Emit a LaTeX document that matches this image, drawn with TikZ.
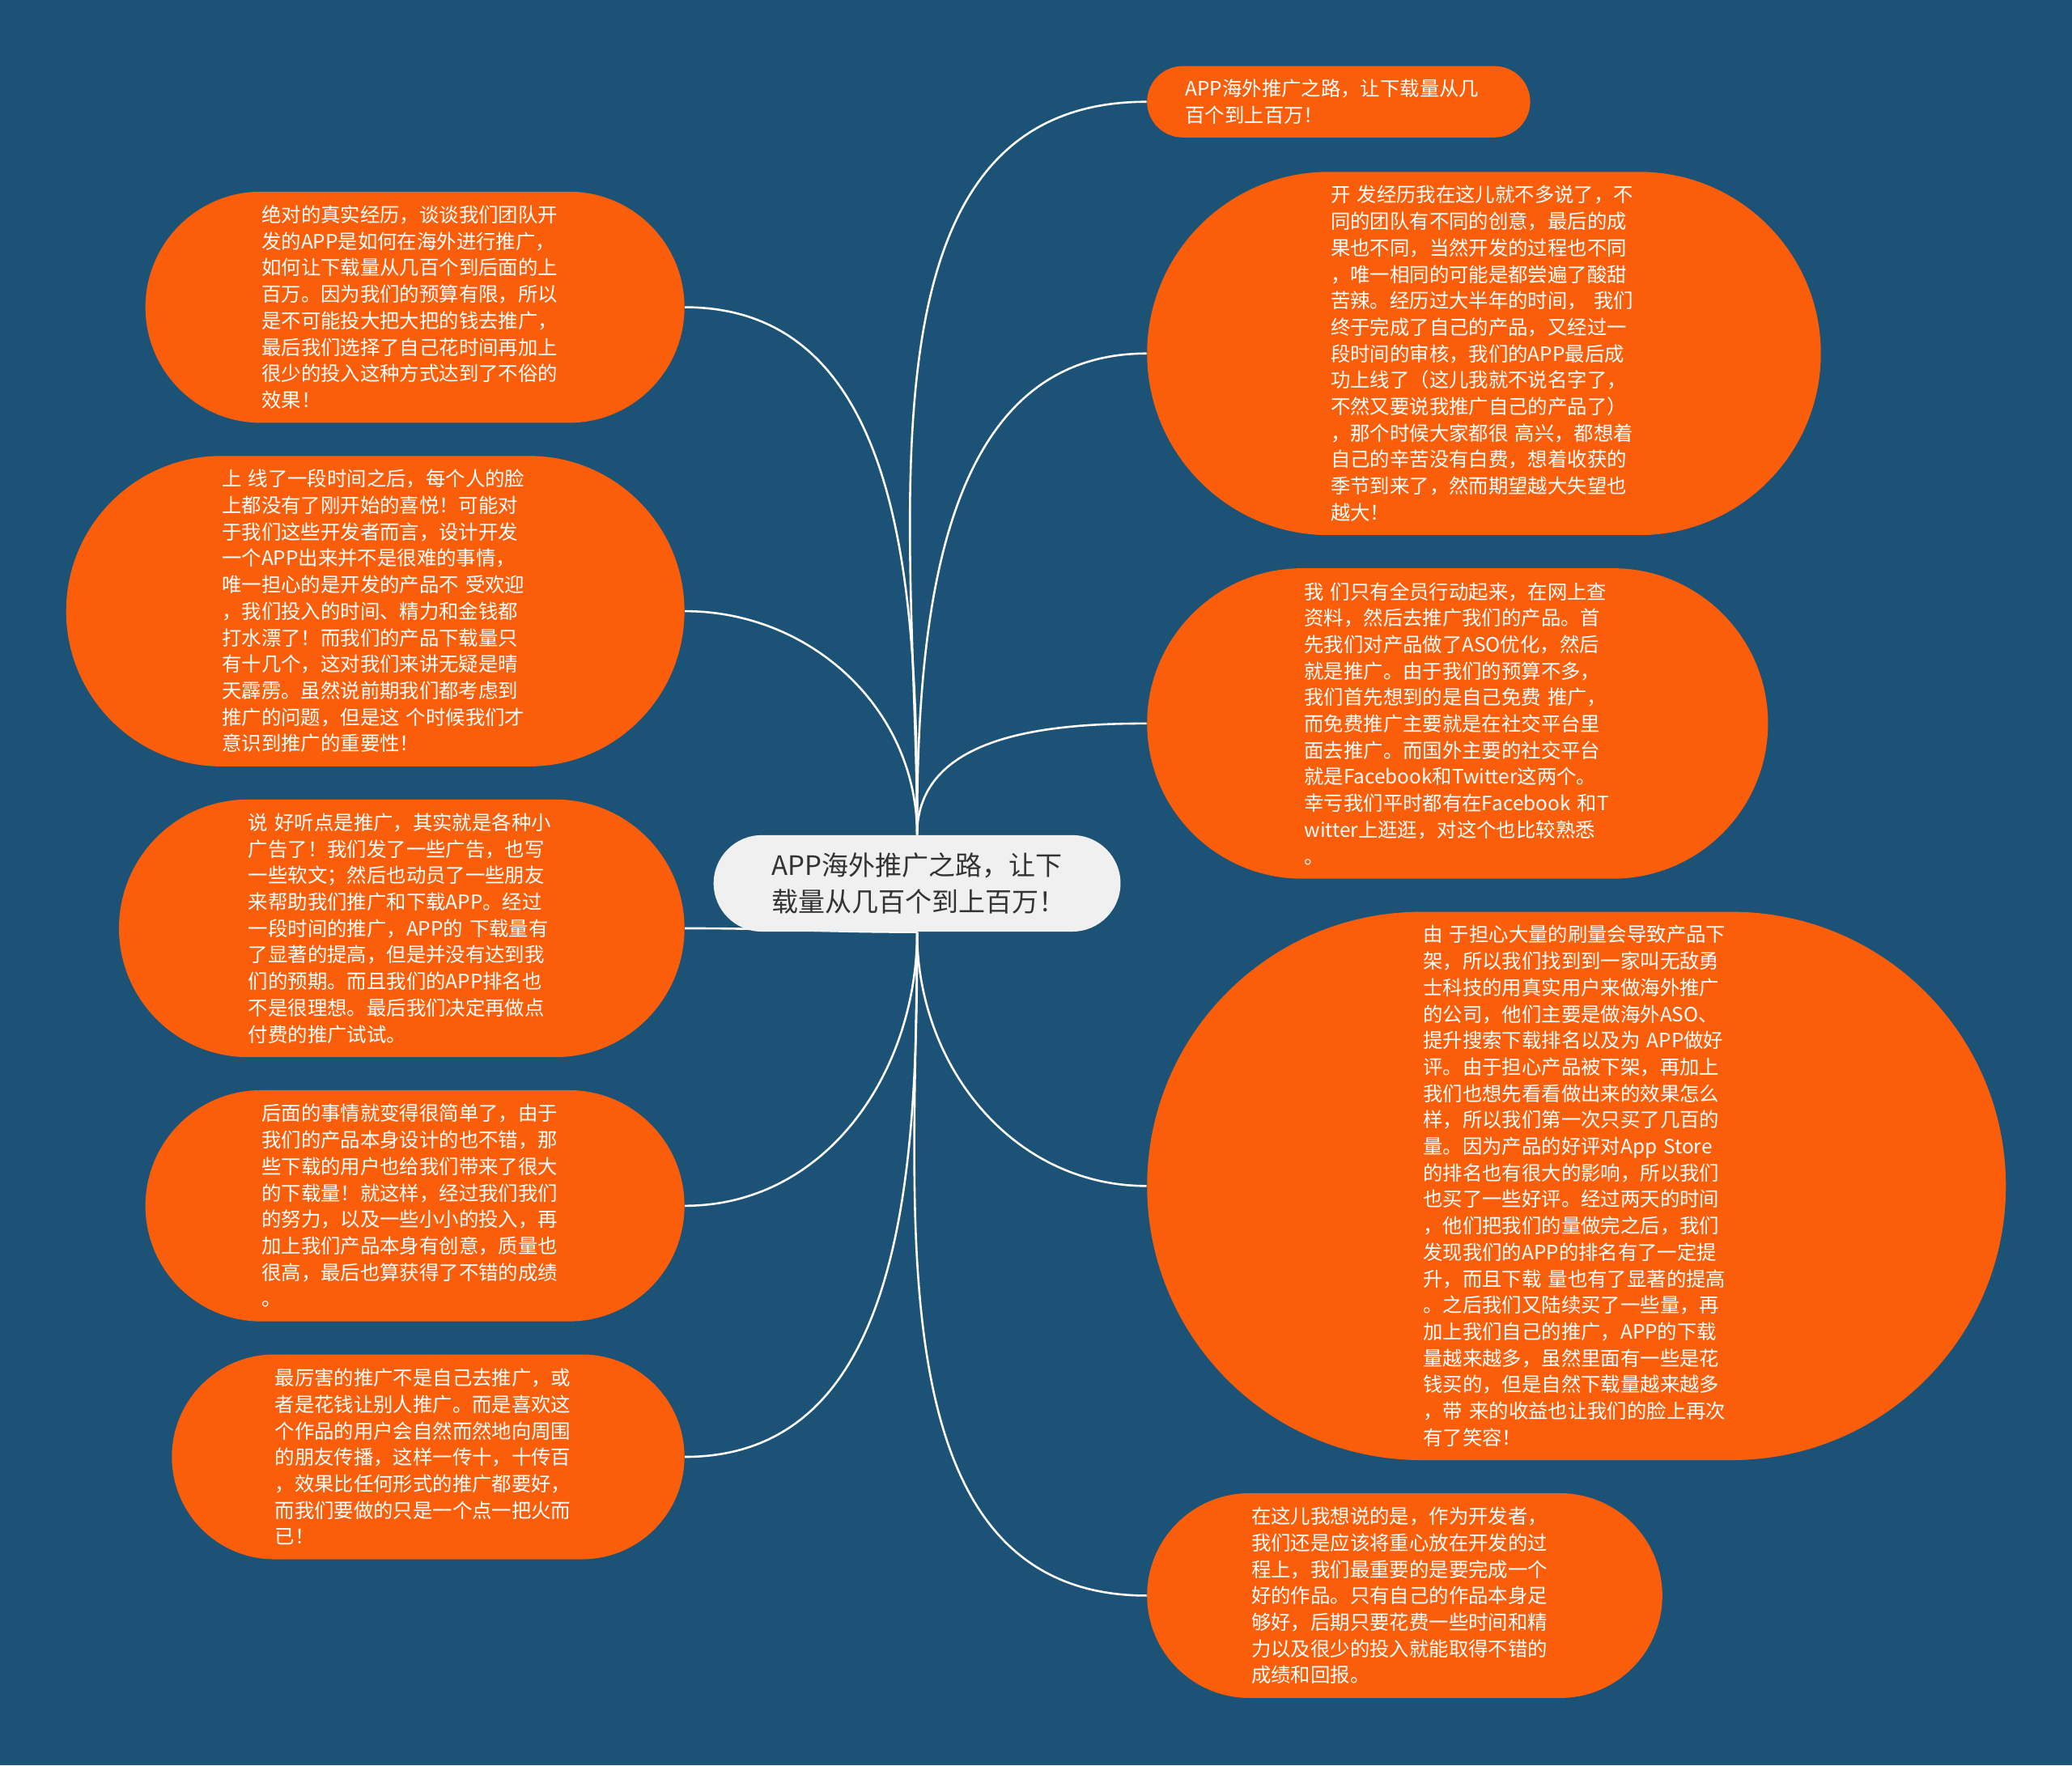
\documentclass[tikz,border=0pt]{standalone}
\usepackage{fontspec}
\setmainfont{Noto Sans CJK SC}
\hyphenpenalty=10000
\exhyphenpenalty=10000
\hfuzz=20pt

\definecolor{bgblue}{RGB}{27,82,118}
\definecolor{topicorange}{RGB}{250,94,10}
\definecolor{rootgray}{RGB}{240,240,240}
\definecolor{roottext}{RGB}{51,51,51}

\pgfdeclarelayer{bg}
\pgfdeclarelayer{edges}
\pgfsetlayers{bg,edges,main}

\tikzset{
  topic/.style={fill=topicorange, text=white, inner sep=0pt, align=left,
    text width=4.64cm, font=\fontsize{8.5}{11.4}\selectfont},
  root/.style={fill=rootgray, text=roottext, inner sep=0pt, align=left,
    text width=4.4cm, minimum width=6.16cm, minimum height=1.46cm,
    rounded corners=0.73cm, font=\fontsize{11.5}{15.4}\selectfont},
  link/.style={draw=white, line width=0.9pt}
}

\begin{document}
\begin{tikzpicture}[x=0.02cm,y=-0.02cm]

% background
\begin{pgfonlayer}{bg}
  \fill[bgblue] (0,0) rectangle (1568,1336);
\end{pgfonlayer}
\useasboundingbox (0,0) rectangle (1568,1336);

% central topic
\node[root] (ctr) at (694,668.5) {APP海外推广之路，让下\\载量从几百个到上百万！};

% right side
\node[topic, minimum width=5.8cm, minimum height=1.08cm, rounded corners=0.54cm]
  (r1) at (1013,77) {APP海外推广之路，让下载量从几\\百个到上百万！};

\node[topic, minimum width=10.2cm, minimum height=5.5cm, rounded corners=2.75cm]
  (r2) at (1123,267.5) {开~发经历我在这儿就不多说了，不\\
  同的团队有不同的创意，最后的成\\
  果也不同，当然开发的过程也不同\\
  ，唯一相同的可能是都尝遍了酸甜\\
  苦辣。经历过大半年的时间，~我们\\
  终于完成了自己的产品，又经过一\\
  段时间的审核，我们的APP最后成\\
  功上线了（这儿我就不说名字了，\\
  不然又要说我推广自己的产品了）\\
  ，那个时候大家都很~高兴，都想着\\
  自己的辛苦没有白费，想着收获的\\
  季节到来了，然而期望越大失望也\\
  越大！};

\node[topic, minimum width=9.4cm, minimum height=4.7cm, rounded corners=2.35cm]
  (r3) at (1103,547.5) {我~们只有全员行动起来，在网上查\\
  资料，然后去推广我们的产品。首\\
  先我们对产品做了ASO优化，然后\\
  就是推广。由于我们的预算不多，\\
  我们首先想到的是自己免费~推广，\\
  而免费推广主要就是在社交平台里\\
  面去推广。而国外主要的社交平台\\
  就是Facebook和Twitter这两个。\\
  幸亏我们平时都有在Facebook~和T\\
  witter上逛逛，对这个也比较熟悉\\
  。};

\node[topic, minimum width=13cm, minimum height=8.3cm, rounded corners=4.15cm]
  (r4) at (1193,897.5) {由~于担心大量的刷量会导致产品下\\
  架，所以我们找到到一家叫无敌勇\\
  士科技的用真实用户来做海外推广\\
  的公司，他们主要是做海外ASO、\\
  提升搜索下载排名以及为~APP做好\\
  评。由于担心产品被下架，再加上\\
  我们也想先看看做出来的效果怎么\\
  样，所以我们第一次只买了几百的\\
  量。因为产品的好评对App~Store\\
  的排名也有很大的影响，所以我们\\
  也买了一些好评。经过两天的时间\\
  ，他们把我们的量做完之后，我们\\
  发现我们的APP的排名有了一定提\\
  升，而且下载~量也有了显著的提高\\
  。之后我们又陆续买了一些量，再\\
  加上我们自己的推广，APP的下载\\
  量越来越多，虽然里面有一些是花\\
  钱买的，但是自然下载量越来越多\\
  ，带~来的收益也让我们的脸上再次\\
  有了笑容！};

\node[topic, minimum width=7.8cm, minimum height=3.1cm, rounded corners=1.55cm]
  (r5) at (1063,1207.5) {在这儿我想说的是，作为开发者，\\
  我们还是应该将重心放在开发的过\\
  程上，我们最重要的是要完成一个\\
  好的作品。只有自己的作品本身足\\
  够好，后期只要花费一些时间和精\\
  力以及很少的投入就能取得不错的\\
  成绩和回报。};

% left side
\node[topic, minimum width=8.16cm, minimum height=3.5cm, rounded corners=1.75cm]
  (l1) at (314,232.5) {绝对的真实经历，谈谈我们团队开\\
  发的APP是如何在海外进行推广，\\
  如何让下载量从几百个到后面的上\\
  百万。因为我们的预算有限，所以\\
  是不可能投大把大把的钱去推广，\\
  最后我们选择了自己花时间再加上\\
  很少的投入这种方式达到了不俗的\\
  效果！};

\node[topic, minimum width=9.36cm, minimum height=4.7cm, rounded corners=2.35cm]
  (l2) at (284,462.5) {上~线了一段时间之后，每个人的脸\\
  上都没有了刚开始的喜悦！可能对\\
  于我们这些开发者而言，设计开发\\
  一个APP出来并不是很难的事情，\\
  唯一担心的是开发的产品不~受欢迎\\
  ，我们投入的时间、精力和金钱都\\
  打水漂了！而我们的产品下载量只\\
  有十几个，这对我们来讲无疑是晴\\
  天霹雳。虽然说前期我们都考虑到\\
  推广的问题，但是这~个时候我们才\\
  意识到推广的重要性！};

\node[topic, minimum width=8.56cm, minimum height=3.9cm, rounded corners=1.95cm]
  (l3) at (304,702.5) {说~好听点是推广，其实就是各种小\\
  广告了！我们发了一些广告，也写\\
  一些软文；然后也动员了一些朋友\\
  来帮助我们推广和下载APP。经过\\
  一段时间的推广，APP的~下载量有\\
  了显著的提高，但是并没有达到我\\
  们的预期。而且我们的APP排名也\\
  不是很理想。最后我们决定再做点\\
  付费的推广试试。};

\node[topic, minimum width=8.16cm, minimum height=3.5cm, rounded corners=1.75cm]
  (l4) at (314,912.5) {后面的事情就变得很简单了，由于\\
  我们的产品本身设计的也不错，那\\
  些下载的用户也给我们带来了很大\\
  的下载量！就这样，经过我们我们\\
  的努力，以及一些小小的投入，再\\
  加上我们产品本身有创意，质量也\\
  很高，最后也算获得了不错的成绩\\
  。};

\node[topic, minimum width=7.76cm, minimum height=3.1cm, rounded corners=1.55cm]
  (l5) at (324,1102.5) {最厉害的推广不是自己去推广，或\\
  者是花钱让别人推广。而是喜欢这\\
  个作品的用户会自然而然地向周围\\
  的朋友传播，这样一传十，十传百\\
  ，效果比任何形式的推广都要好，\\
  而我们要做的只是一个点一把火而\\
  已！};

% connectors
\begin{pgfonlayer}{edges}
  \foreach \n in {r1,r2,r3}
    \draw[link] (ctr.north) to[out=90,in=180] (\n.west);
  \foreach \n in {r4,r5}
    \draw[link] (ctr.south) to[out=-90,in=180] (\n.west);
  \foreach \n in {l1,l2}
    \draw[link] (ctr.north) to[out=90,in=0] (\n.east);
  \foreach \n in {l4,l5}
    \draw[link] (ctr.south) to[out=-90,in=0] (\n.east);
  \draw[link] (ctr.south) to[out=180,in=0] (l3.east);
\end{pgfonlayer}

\end{tikzpicture}
\end{document}
